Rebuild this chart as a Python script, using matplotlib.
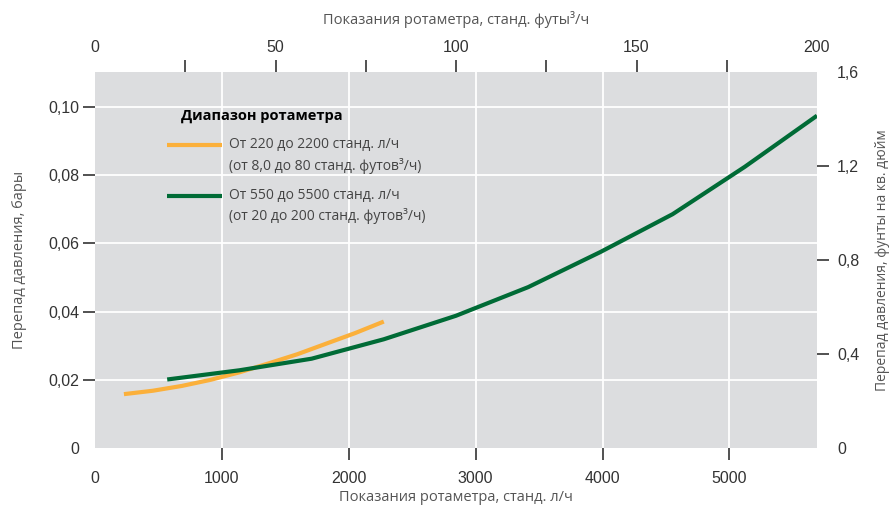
import matplotlib
matplotlib.use('Agg')
import matplotlib.pyplot as plt

# flow, standard l/h (points every 8 / 20 scfh)
flow_small = [228, 456, 683, 911, 1138, 1366, 1594, 1821, 2049, 2276]
dp_small = [0.0158, 0.0168, 0.0182, 0.0200, 0.0222, 0.0248, 0.0275, 0.0306, 0.0337, 0.0371]

flow_big = [569, 1138, 1707, 2276, 2845, 3414, 3983, 4552, 5121, 5690]
dp_big = [0.0201, 0.0228, 0.0262, 0.0319, 0.0388, 0.0472, 0.0575, 0.0686, 0.0825, 0.0975]

bottom_ticks = [1000, 2000, 3000, 4000, 5000]
left_ticks = [0.02, 0.04, 0.06, 0.08, 0.10]
left_labels = ['0,02', '0,04', '0,06', '0,08', '0,10']
top_ticks = [25, 50, 75, 100, 125, 150, 175]
top_labels = ['', '50', '', '100', '', '150', '']
top_ends = [0, 200]
right_ticks = [0.4, 0.8, 1.2]
right_labels = ['0,4', '0,8', '1,2']
right_ends = [0, 1.6]
right_end_labels = ['0', '1,6']

legend_title = 'Диапазон ротаметра'
legend_small = ['От 220 до 2200 станд. л/ч', '(от 8,0 до 80 станд. футов³/ч)']
legend_big = ['От 550 до 5500 станд. л/ч', '(от 20 до 200 станд. футов³/ч)']

ORANGE = '#fbb03b'
GREEN = '#006b36'
BG = '#dcdddf'
TXT = '#333333'
LBL = '#555555'
PSI = 14.5038
W, H = 891, 508
TL = 8.5    # tick length, pt
TS = 11.5   # tick label size
AS = 10.5   # axis label size

plt.rcParams['font.family'] = ['Liberation Sans', 'DejaVu Sans']
lfont = ['Open Sans', 'DejaVu Sans']

fig = plt.figure(figsize=(W / 100, H / 100), dpi=100)
ax = fig.add_axes([95 / W, 1 - 448 / H, 722 / W, 376 / H])
ax.set_facecolor(BG)
ax.set_xlim(0, 5690)
ax.set_ylim(0, 1.6 / PSI)

ax.plot(flow_small, dp_small, color=ORANGE, lw=3.0, solid_capstyle='butt', zorder=3)
ax.plot(flow_big, dp_big, color=GREEN, lw=3.0, solid_capstyle='butt', zorder=3)

ax.set_xticks(bottom_ticks)
ax.set_xticklabels([str(t) for t in bottom_ticks])
ax.set_xticks([0], minor=True)
ax.set_xticklabels(['0'], minor=True)
ax.set_yticks(left_ticks)
ax.set_yticklabels(left_labels)
ax.set_yticks([0], minor=True)
ax.set_yticklabels(['0'], minor=True)
ax.grid(which='major', color='white', lw=1.3)
ax.set_axisbelow(True)
ax.tick_params(axis='x', which='major', length=TL, width=1.2, color=TXT, labelsize=TS, labelcolor=TXT, pad=8)
ax.tick_params(axis='x', which='minor', length=0, labelsize=TS, labelcolor=TXT, pad=8 + TL)
ax.tick_params(axis='y', which='major', length=TL, width=1.2, color=TXT, labelsize=TS, labelcolor=TXT, pad=3)
ax.tick_params(axis='y', which='minor', length=0, labelsize=TS, labelcolor=TXT, pad=3 + TL)
ax.set_xlabel('Показания ротаметра, станд. л/ч', fontsize=AS, color=LBL, family=lfont, labelpad=3)
ax.set_ylabel('Перепад давления, бары', fontsize=AS, color=LBL, family=lfont, labelpad=15)

# top axis, scfh
axt = ax.twiny()
axt.set_xlim(0, 200)
axt.set_xticks(top_ticks)
axt.set_xticklabels(top_labels)
axt.set_xticks(top_ends, minor=True)
axt.set_xticklabels([str(t) for t in top_ends], minor=True)
axt.tick_params(axis='x', which='major', length=TL, width=1.2, color=TXT, labelsize=TS, labelcolor=TXT, pad=4)
axt.tick_params(axis='x', which='minor', length=0, labelsize=TS, labelcolor=TXT, pad=4 + TL)
axt.set_xlabel('Показания ротаметра, станд. футы³/ч', fontsize=AS, color=LBL, family=lfont, labelpad=11)

# right axis, psi
axr = ax.twinx()
axr.set_ylim(0, 1.6)
axr.set_yticks(right_ticks)
axr.set_yticklabels(right_labels)
axr.set_yticks(right_ends, minor=True)
axr.set_yticklabels(right_end_labels, minor=True)
axr.tick_params(axis='y', which='major', length=TL, width=1.2, color=TXT, labelsize=TS, labelcolor=TXT, pad=6)
axr.tick_params(axis='y', which='minor', length=0, labelsize=TS, labelcolor=TXT, pad=6 + TL)
axr.set_ylabel('Перепад давления, фунты на кв. дюйм', fontsize=10, color=LBL, family=lfont, labelpad=11)

for a in (ax, axt, axr):
    for s in a.spines.values():
        s.set_visible(False)

# legend drawn by hand
def fx(px):
    return px / W

def fy(py):
    return 1 - py / H

fig.text(fx(181), fy(116), legend_title, fontsize=10.5, fontweight='bold', color='black',
         family=lfont, va='center')
for (c, rows, y0) in ((ORANGE, legend_small, 145), (GREEN, legend_big, 196)):
    fig.add_artist(plt.Line2D([fx(167), fx(222)], [fy(y0), fy(y0)], color=c, lw=3.0,
                              solid_capstyle='butt', transform=fig.transFigure))
    fig.text(fx(229), fy(y0), rows[0], fontsize=10, color='#444444', family=lfont, va='center')
    fig.text(fx(229), fy(y0 + 20.5), rows[1], fontsize=10, color='#444444', family=lfont, va='center')

fig.savefig('out.png', dpi=100)
